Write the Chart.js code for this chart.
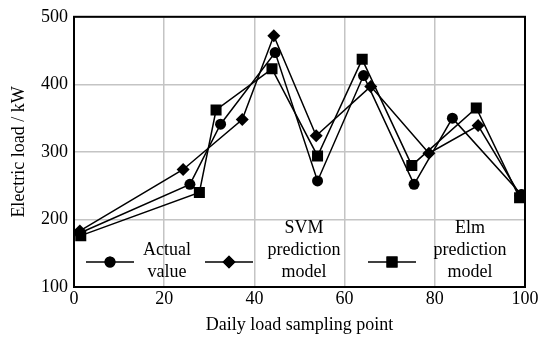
<!DOCTYPE html>
<html>
<head>
<meta charset="utf-8">
<script src="https://cdn.jsdelivr.net/npm/chart.js@4/dist/chart.umd.min.js"></script>
<style>
	body { margin: 0; background: #fff; }
	canvas { display: block; }
</style>
</head>
<body>
<canvas id="loadChart" width="538" height="338"></canvas>
<script>
// values
let actualX = [1.3, 25.7, 32.5, 44.6, 54.0, 64.2, 75.4, 83.9, 99.2];
let actualY = [180, 252, 341, 447, 257, 413, 252, 350, 237];
let svmX = [1.3, 24.2, 37.3, 44.3, 53.7, 65.8, 78.7, 89.6, 99.0];
let svmY = [183, 274, 348, 472, 324, 397, 298, 339, 235];
let elmX = [1.5, 27.8, 31.5, 43.9, 54.0, 63.9, 74.9, 89.2, 98.8];
let elmY = [176, 240, 362, 423, 294, 437, 280, 365, 232];

let seriesNames = [['Actual', 'value'], ['SVM', 'prediction', 'model'], ['Elm', 'prediction', 'model']];
let xTicks = [0, 20, 40, 60, 80, 100];
let yTicks = [100, 200, 300, 400, 500];

let fontFamily = '"Liberation Serif", "Times New Roman", serif';

function toPoints(xs, ys) {
	let points = [];
	xs.forEach((x, i) => {
		points.push({ x: x, y: ys[i] });
	});
	return points;
}

function makeDataset(name, xs, ys, style, radius) {
	return {
		label: name.join(' '),
		data: toPoints(xs, ys),
		borderColor: '#000',
		backgroundColor: '#000',
		borderWidth: 1.5,
		pointStyle: style,
		pointRadius: radius,
		pointHoverRadius: radius,
		pointBorderWidth: 0,
		tension: 0,
		fill: false
	};
}

// legend inside the plot, with multi-line labels
const innerLegend = {
	id: 'innerLegend',
	afterDraw(chart) {
		let ctx = chart.ctx;
		let area = chart.chartArea;
		let baseY = area.bottom - 25;
		let items = [
			{ lineX: area.left + 12, textX: area.left + 93 },
			{ lineX: area.left + 131, textX: area.left + 230 },
			{ lineX: area.left + 294, textX: area.left + 396 }
		];
		ctx.save();
		chart.data.datasets.forEach((ds, i) => {
			let it = items[i];
			ctx.strokeStyle = '#000';
			ctx.lineWidth = 1.5;
			ctx.beginPath();
			ctx.moveTo(it.lineX, baseY);
			ctx.lineTo(it.lineX + 48, baseY);
			ctx.stroke();
			ctx.fillStyle = '#000';
			Chart.helpers.drawPoint(ctx, {
				pointStyle: ds.pointStyle,
				radius: ds.pointRadius,
				borderWidth: 0
			}, it.lineX + 24, baseY);
			ctx.fill();

			let lines = seriesNames[i];
			ctx.font = '18px ' + fontFamily;
			ctx.textAlign = 'center';
			ctx.textBaseline = 'middle';
			let lineH = 22;
			let lastY = area.bottom - 15;
			lines.forEach((txt, k) => {
				ctx.fillText(txt, it.textX, lastY - (lines.length - 1 - k) * lineH);
			});
		});
		// frame round the plot
		ctx.strokeStyle = '#000';
		ctx.lineWidth = 2;
		ctx.strokeRect(area.left, area.top, area.right - area.left, area.bottom - area.top);
		ctx.restore();
	}
};

let target = document.getElementById('loadChart');
new Chart(target, {
	type: 'line',
	data: {
		datasets: [
			makeDataset(seriesNames[0], actualX, actualY, 'circle', 5.5),
			makeDataset(seriesNames[1], svmX, svmY, 'rectRot', 6.5),
			makeDataset(seriesNames[2], elmX, elmY, 'rect', 7.8)
		]
	},
	options: {
		responsive: false,
		animation: false,
		layout: {
			padding: { top: 16, right: 13, left: 0, bottom: 0 }
		},
		plugins: {
			legend: { display: false },
			tooltip: { enabled: false }
		},
		scales: {
			x: {
				type: 'linear',
				min: 0,
				max: 100,
				afterBuildTicks: (scale) => {
					scale.ticks = xTicks.map(v => ({ value: v }));
				},
				afterFit: (scale) => {
					scale.height = 51;
					scale.paddingLeft = 0;
					scale.paddingRight = 0;
				},
				grid: {
					color: '#c4c4c4',
					lineWidth: 1.5,
					drawTicks: false
				},
				border: { color: '#000', width: 2 },
				ticks: {
					color: '#000',
					padding: 1,
					maxRotation: 0,
					font: { family: fontFamily, size: 18 }
				},
				title: {
					display: true,
					text: 'Daily load sampling point',
					color: '#000',
					padding: { top: 0, bottom: 2 },
					font: { family: fontFamily, size: 18 }
				}
			},
			y: {
				type: 'linear',
				min: 100,
				max: 500,
				afterBuildTicks: (scale) => {
					scale.ticks = yTicks.map(v => ({ value: v }));
				},
				afterFit: (scale) => {
					scale.width = 74;
				},
				grid: {
					color: '#c4c4c4',
					lineWidth: 1.5,
					drawTicks: false
				},
				border: { color: '#000', width: 2 },
				ticks: {
					color: '#000',
					padding: 6,
					font: { family: fontFamily, size: 18 }
				},
				title: {
					display: true,
					text: 'Electric load / kW',
					color: '#000',
					padding: { top: 8, bottom: 0 },
					font: { family: fontFamily, size: 18 }
				}
			}
		}
	},
	plugins: [innerLegend]
});
</script>
</body>
</html>
